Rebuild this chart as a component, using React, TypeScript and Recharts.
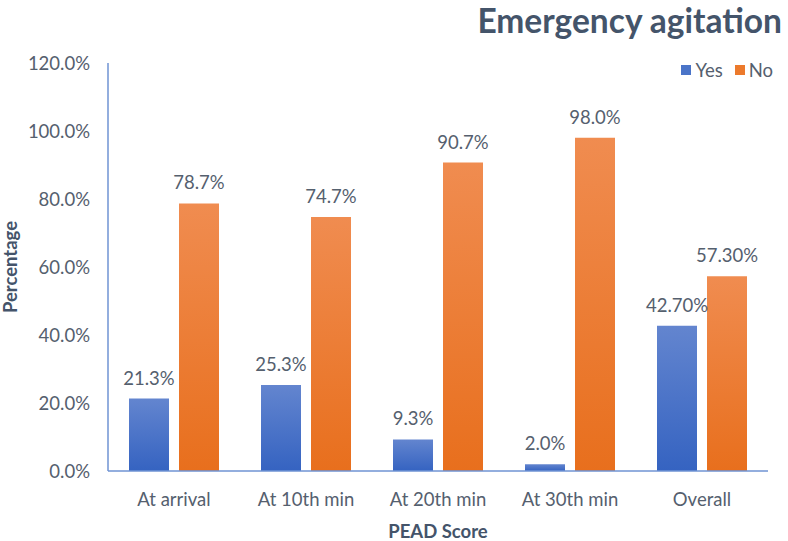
import React from "react";
import { BarChart, Bar, XAxis, YAxis, LabelList, Label } from "recharts";

const categories = ["At arrival", "At 10th min", "At 20th min", "At 30th min", "Overall"];
const yesValues = [21.3, 25.3, 9.3, 2.0, 42.7];
const noValues = [78.7, 74.7, 90.7, 98.0, 57.3];
const yesLabels = ["21.3%", "25.3%", "9.3%", "2.0%", "42.70%"];
const noLabels = ["78.7%", "74.7%", "90.7%", "98.0%", "57.30%"];
const yTicks = [0, 20, 40, 60, 80, 100, 120];
const seriesNames = ["Yes", "No"];
const seriesColors = ["#4A74C8", "#EC7A2C"];

const data = categories.map((c, i) => ({
  name: c,
  Yes: yesValues[i],
  No: noValues[i],
  yesLabel: yesLabels[i],
  noLabel: noLabels[i],
}));

const FONT = "Lato, 'Open Sans', sans-serif";
const TEXT = "#55606E";
const FS = 18.5;

export default function App() {
  return (
    <div style={{ position: "absolute", left: 0, top: 0, width: 788, height: 541, background: "#fff", fontFamily: FONT }}>
      <div
        style={{
          position: "absolute",
          right: 6,
          top: 3,
          fontSize: 33.5,
          lineHeight: "34px",
          fontWeight: 700,
          color: "#44546A",
          fontFamily: FONT,
          whiteSpace: "nowrap",
        }}
      >
        Emergency agitation
      </div>
      <div
        style={{
          position: "absolute",
          right: 15,
          top: 60,
          display: "flex",
          alignItems: "center",
          fontSize: FS,
          color: TEXT,
          fontFamily: FONT,
          lineHeight: "20px",
        }}
      >
        {seriesNames.map((n, i) => (
          <div key={n} style={{ display: "flex", alignItems: "center", marginLeft: i === 0 ? 0 : 12 }}>
            <span style={{ display: "inline-block", width: 10, height: 10, background: seriesColors[i], marginRight: 4 }} />
            <span>{n}</span>
          </div>
        ))}
      </div>
      <BarChart
        width={788}
        height={541}
        data={data}
        margin={{ top: 63, right: 20, bottom: 0, left: 0 }}
        barSize={40}
        barGap={10}
        style={{ position: "absolute", left: 0, top: 0 }}
      >
        <defs>
          <linearGradient id="gYes" x1="0" y1="0" x2="0" y2="1">
            <stop offset="0%" stopColor="#6385CF" />
            <stop offset="100%" stopColor="#3563C1" />
          </linearGradient>
          <linearGradient id="gNo" x1="0" y1="0" x2="0" y2="1">
            <stop offset="0%" stopColor="#F08C50" />
            <stop offset="100%" stopColor="#E86F1D" />
          </linearGradient>
        </defs>
        <XAxis
          dataKey="name"
          height={70}
          axisLine={{ stroke: "#6F93D3", strokeWidth: 1.5 }}
          tickLine={false}
          tickSize={0}
          tickMargin={22}
          tick={{ fill: TEXT, fontSize: FS, fontFamily: FONT }}
        >
          <Label
            value="PEAD Score"
            position="insideBottom"
            offset={0}
            dy={-3}
            style={{ fill: "#44546A", fontSize: FS, fontWeight: 700, fontFamily: FONT }}
          />
        </XAxis>
        <YAxis
          width={108}
          domain={[0, 120]}
          ticks={yTicks}
          interval={0}
          axisLine={{ stroke: "#6F93D3", strokeWidth: 1.5 }}
          tickLine={false}
          tickSize={0}
          tickMargin={18}
          tickFormatter={(v: number) => `${v.toFixed(1)}%`}
          tick={{ fill: TEXT, fontSize: FS, fontFamily: FONT }}
        >
          <Label
            value="Percentage"
            angle={-90}
            position="insideLeft"
            offset={10}
            style={{ textAnchor: "middle", fill: "#44546A", fontSize: FS, fontWeight: 700, fontFamily: FONT }}
          />
        </YAxis>
        <Bar dataKey="Yes" fill="url(#gYes)" isAnimationActive={false}>
          <LabelList dataKey="yesLabel" position="top" offset={14} style={{ fill: TEXT, fontSize: FS, fontFamily: FONT }} />
        </Bar>
        <Bar dataKey="No" fill="url(#gNo)" isAnimationActive={false}>
          <LabelList dataKey="noLabel" position="top" offset={14} style={{ fill: TEXT, fontSize: FS, fontFamily: FONT }} />
        </Bar>
      </BarChart>
    </div>
  );
}
